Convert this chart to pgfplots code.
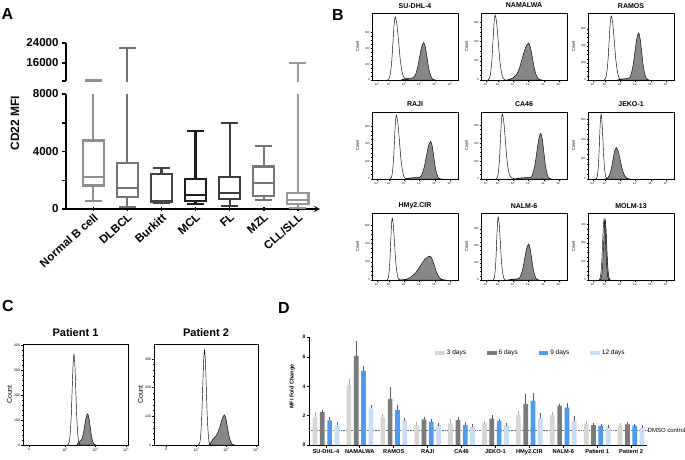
\documentclass[border=0pt]{standalone}
\usepackage{fontspec}
\setmainfont{Liberation Sans}
\usepackage{pgfplots}
\pgfplotsset{compat=1.18}
\definecolor{cNB}{HTML}{8F8F8F}
\definecolor{cDL}{HTML}{727272}
\definecolor{cBu}{HTML}{454545}
\definecolor{cMC}{HTML}{1E1E1E}
\definecolor{cFL}{HTML}{3D3D3D}
\definecolor{cMZ}{HTML}{777777}
\definecolor{cCL}{HTML}{999999}
\definecolor{histfill}{HTML}{888888}
\definecolor{dA}{HTML}{D6D6D6}
\definecolor{dB}{HTML}{7B7B7B}
\definecolor{dC}{HTML}{4F9BEF}
\definecolor{dD}{HTML}{C7DCF6}
\definecolor{eA}{HTML}{ABABAB}
\definecolor{eB}{HTML}{5A5A5A}
\pgfplotsset{
 every axis/.append style={/pgf/number format/assume math mode=true, scaled ticks=false},
 flowaxis/.style={scale only axis, width=86pt, height=67pt, xmin=-0.33, xmax=5.33, ymin=0,
  axis line style={line width=0.4pt}, tick align=outside,
  major tick length=1.5pt, minor tick length=0.8pt,
  tick style={line width=0.3pt, black},
  xtick={0,0.8,1.8,2.8,3.8,4.8},
  xticklabels={-10\textsuperscript{2},10\textsuperscript{2},10\textsuperscript{3},10\textsuperscript{4},10\textsuperscript{5},10\textsuperscript{6}},
  minor x tick num=4, minor y tick num=3, tick pos=left,
  tick label style={font=\fontsize{2.8}{3}\selectfont, inner sep=0.6pt},
  ylabel={Count}, every axis y label/.style={at={(axis description cs:-0.17,0.5)}, rotate=90, anchor=center, font=\fontsize{4}{4}\selectfont},
  title style={at={(0.5,1)}, anchor=base, yshift=-1pt, font=\bfseries\fontsize{7}{7}\selectfont},
 },
 flowC/.style={scale only axis, height=101pt, ymin=0,
  axis line style={line width=0.5pt}, tick align=outside,
  major tick length=2pt, minor tick length=1pt,
  tick style={line width=0.35pt, black},
  minor x tick num=4, minor y tick num=4, tick pos=left,
  tick label style={font=\fontsize{3.5}{4}\selectfont, inner sep=0.8pt},
  ylabel={Count}, every axis y label/.style={at={(axis description cs:-0.13,0.5)}, rotate=90, anchor=center, font=\fontsize{7}{7}\selectfont},
  title style={at={(0.5,1)}, anchor=base, yshift=2pt, font=\bfseries\fontsize{11}{11}\selectfont},
 },
 histS/.style={fill=histfill, draw=black, line width=0.45pt, smooth, tension=0.4},
 histO/.style={draw=black, line width=0.45pt, smooth, tension=0.4, fill=none},
 boxA/.style={scale only axis, width=254pt, xmin=0.2, xmax=7.65,
  axis y line=left, axis line style={line width=1.5pt,-},
  tick align=outside, major tick length=4pt, minor tick length=4pt,
  tick style={line width=1.5pt, black},
  tick label style={font=\bfseries\fontsize{11.5}{12}\selectfont},
 },
 bx/.style={draw=#1, line width=2.2pt, unbounded coords=jump, mark=none},
 dbar/.style 2 args={ybar, bar width=4.7pt, bar shift=#1, fill=#2, draw=none},
 derr/.style={forget plot, draw=none, mark=none,
  error bars/.cd, y dir=plus, y explicit,
  error bar style={draw=#1, line width=0.55pt},
  error mark options={draw=#1, mark size=1.3pt, line width=0.55pt}},
}
\begin{document}
\begin{tikzpicture}
\path[use as bounding box] (0pt,0pt) rectangle (685pt,459pt);
\node[font=\bfseries\fontsize{16}{16}\selectfont] at (7.5pt,445pt) {A};
\node[font=\bfseries\fontsize{16}{16}\selectfont] at (338pt,444pt) {B};
\node[font=\bfseries\fontsize{16}{16}\selectfont] at (8pt,153pt) {C};
\node[font=\bfseries\fontsize{16}{16}\selectfont] at (284pt,151.5pt) {D};
\node[rotate=90, font=\bfseries\fontsize{12}{12}\selectfont] at (15pt,336pt) {CD22 MFI};

% ---------- Panel A lower ----------
\begin{axis}[boxA, at={(66pt,250pt)}, anchor=south west, height=115pt,
 ymin=0, ymax=8000, axis x line=bottom,
 ytick={0,4000,8000}, yticklabels={0,4000,8000}, minor ytick={2000,6000},
 xtick={1,2,3,4,5,6,7}, xticklabels={Normal B cell,DLBCL,Burkitt,MCL,FL,MZL,CLL/SLL},
 x tick label style={rotate=42, anchor=north east, inner sep=1pt},
]
\addplot[bx=cNB] coordinates {(0.69,1630) (1.31,1630) (1.31,4770) (0.69,4770) (0.69,1630) (1.31,1630) (1,nan) (0.69,2200) (1.31,2200) (1,nan) (1,4770) (1,9000) (1,nan) (1,1630) (1,580) (1,nan) (0.75,580) (1.25,580)};
\addplot[bx=cDL] coordinates {(1.69,810) (2.31,810) (2.31,3190) (1.69,3190) (1.69,810) (2.31,810) (2,nan) (1.69,1440) (2.31,1440) (2,nan) (2,3190) (2,9000) (2,nan) (2,810) (2,160) (2,nan) (1.75,160) (2.25,160)};
\addplot[bx=cBu] coordinates {(2.69,510) (3.31,510) (3.31,2440) (2.69,2440) (2.69,510) (3.31,510) (3,nan) (2.69,560) (3.31,560) (3,nan) (3,2440) (3,2880) (3,nan) (3,510) (3,430) (3,nan) (2.75,430) (3.25,430) (3,nan) (2.75,2880) (3.25,2880)};
\addplot[bx=cMC] coordinates {(3.69,580) (4.31,580) (4.31,2070) (3.69,2070) (3.69,580) (4.31,580) (4,nan) (3.69,980) (4.31,980) (4,nan) (4,2070) (4,5440) (4,nan) (4,580) (4,330) (4,nan) (3.75,330) (4.25,330) (4,nan) (3.75,5440) (4.25,5440)};
\addplot[bx=cFL] coordinates {(4.69,670) (5.31,670) (5.31,2200) (4.69,2200) (4.69,670) (5.31,670) (5,nan) (4.69,1140) (5.31,1140) (5,nan) (5,2200) (5,5980) (5,nan) (5,670) (5,230) (5,nan) (4.75,230) (5.25,230) (5,nan) (4.75,5980) (5.25,5980)};
\addplot[bx=cMZ] coordinates {(5.69,930) (6.31,930) (6.31,2950) (5.69,2950) (5.69,930) (6.31,930) (6,nan) (5.69,1790) (6.31,1790) (6,nan) (6,2950) (6,4400) (6,nan) (6,930) (6,630) (6,nan) (5.75,630) (6.25,630) (6,nan) (5.75,4400) (6.25,4400)};
\addplot[bx=cCL] coordinates {(6.69,350) (7.31,350) (7.31,1140) (6.69,1140) (6.69,350) (7.31,350) (7,nan) (6.69,630) (7.31,630) (7,nan) (7,1140) (7,9000) (7,nan) (7,350) (7,50) (7,nan) (6.75,50) (7.25,50)};
\end{axis}
% ---------- Panel A upper ----------
\begin{axis}[boxA, at={(66pt,378pt)}, anchor=south west, height=38pt,
 ymin=8800, ymax=24000, axis x line=none,
 ytick={8800,16000,24000}, yticklabels={,16000,24000},
]
\addplot[bx=cNB] coordinates {(0.75,9000) (1.25,9000)};
\addplot[bx=cDL] coordinates {(2,8000) (2,22000) (2,nan) (1.75,22000) (2.25,22000)};
\addplot[bx=cCL] coordinates {(7,8000) (7,16000) (7,nan) (6.75,16000) (7.25,16000)};
\end{axis}

% ---------- Panel B ----------
\begin{axis}[flowaxis, at={(372pt,379pt)}, anchor=south west, ymax=840, ytick={0,200,400,600}, title={SU-DHL-4}]
\addplot[histS] coordinates {(1.6,0) (1.75,12) (2.0,18) (2.2,22) (2.4,30) (2.53,66) (2.665,150) (2.8,287) (2.935,414) (3.07,470) (3.18,414) (3.29,287) (3.40,150) (3.51,66) (3.62,19) (3.73,5) (3.84,0)} \closedcycle;
\addplot[histO] coordinates {(0.675,0) (0.75,8) (0.825,32) (0.9,110) (0.975,253) (1.05,482) (1.125,695) (1.2,790) (1.31,695) (1.42,482) (1.53,253) (1.64,110) (1.75,40) (1.86,15) (1.97,5) (2.1,0)};
\end{axis}
\begin{axis}[flowaxis, at={(481pt,379pt)}, anchor=south west, ymax=694, ytick={0,200,400,600}, title={NAMALWA}]
\addplot[histS] coordinates {(1.4,0) (1.6,12) (1.8,25) (2.0,54) (2.2,123) (2.4,234) (2.6,337) (2.8,383) (2.925,337) (3.05,234) (3.175,123) (3.3,54) (3.425,15) (3.55,4) (3.675,0)} \closedcycle;
\addplot[histO] coordinates {(0.11,0) (0.18,7) (0.25,27) (0.32,94) (0.39,215) (0.46,411) (0.53,592) (0.6,673) (0.7,592) (0.8,411) (0.9,215) (1.0,94) (1.1,27) (1.2,7) (1.3,0)};
\end{axis}
\begin{axis}[flowaxis, at={(588pt,379pt)}, anchor=south west, ymax=788, ytick={0,200,400,600}, title={RAMOS}]
\addplot[histS] coordinates {(1.6,0) (1.8,10) (2.1,15) (2.4,25) (2.52,77) (2.64,177) (2.76,337) (2.88,487) (3.0,553) (3.1,487) (3.2,337) (3.3,177) (3.4,77) (3.5,22) (3.6,6) (3.7,0)} \closedcycle;
\addplot[histO] coordinates {(0.71,0) (0.78,8) (0.85,30) (0.92,105) (0.99,241) (1.06,459) (1.13,663) (1.2,753) (1.3,663) (1.4,459) (1.5,241) (1.6,105) (1.7,30) (1.8,8) (1.9,0)};
\end{axis}

\begin{axis}[flowaxis, at={(372pt,280pt)}, anchor=south west, ymax=763, ytick={0,200,400,600}, title={RAJI}]
\addplot[histS] coordinates {(1.9,0) (2.1,10) (2.4,15) (2.83,22) (2.97,60) (3.11,137) (3.25,261) (3.39,377) (3.53,428) (3.63,377) (3.73,261) (3.83,137) (3.93,60) (4.03,17) (4.13,4) (4.23,0)} \closedcycle;
\addplot[histO] coordinates {(0.85,0) (0.91,7) (0.97,29) (1.03,102) (1.09,233) (1.15,444) (1.21,641) (1.27,728) (1.37,641) (1.47,444) (1.57,233) (1.67,102) (1.77,29) (1.87,7) (1.97,0)};
\end{axis}
\begin{axis}[flowaxis, at={(481pt,280pt)}, anchor=south west, ymax=746, ytick={0,200,400,600}, title={CA46}]
\addplot[histS] coordinates {(1.9,0) (2.2,10) (2.6,15) (2.975,20) (3.1,71) (3.225,163) (3.35,310) (3.475,447) (3.6,508) (3.7,447) (3.8,310) (3.9,163) (4.0,71) (4.1,20) (4.2,5) (4.3,0)} \closedcycle;
\addplot[histO] coordinates {(0.65,0) (0.71,7) (0.77,29) (0.83,101) (0.89,231) (0.95,441) (1.01,636) (1.07,723) (1.17,636) (1.27,441) (1.37,231) (1.47,101) (1.57,35) (1.67,15) (1.8,5) (1.95,0)};
\end{axis}
\begin{axis}[flowaxis, at={(588pt,280pt)}, anchor=south west, ymax=671, ytick={0,200,400,600}, title={JEKO-1}]
\addplot[histS] coordinates {(0.76,0) (0.87,3) (0.98,13) (1.09,44) (1.2,101) (1.31,192) (1.42,277) (1.53,315) (1.66,277) (1.79,192) (1.92,101) (2.05,44) (2.18,13) (2.31,3) (2.44,0)} \closedcycle;
\addplot[histO] coordinates {(0.18,0) (0.23,7) (0.28,26) (0.33,91) (0.38,208) (0.43,397) (0.48,572) (0.53,650) (0.59,572) (0.65,397) (0.71,208) (0.77,91) (0.83,26) (0.89,7) (0.95,0)};
\end{axis}

\begin{axis}[flowaxis, at={(372pt,179pt)}, anchor=south west, ymax=732, ytick={0,200,400,600}, title={HMy2.CIR}]
\addplot[histS] coordinates {(1.37,0) (1.67,3) (1.97,10) (2.27,37) (2.57,84) (2.87,160) (3.17,231) (3.47,262) (3.62,231) (3.77,160) (3.92,84) (4.07,37) (4.22,10) (4.37,3) (4.52,0)} \closedcycle;
\addplot[histO] coordinates {(0.65,0) (0.7,7) (0.75,27) (0.8,95) (0.85,216) (0.9,412) (0.95,595) (1.0,676) (1.075,595) (1.15,412) (1.225,216) (1.3,95) (1.375,27) (1.45,7) (1.525,0)};
\end{axis}
\begin{axis}[flowaxis, at={(481pt,179pt)}, anchor=south west, ymax=788, ytick={0,200,400,600}, title={NALM-6}]
\addplot[histS] coordinates {(1.4,0) (1.7,8) (2.0,12) (2.175,20) (2.3,59) (2.425,135) (2.55,258) (2.675,372) (2.8,423) (2.9,372) (3.0,258) (3.1,135) (3.2,59) (3.3,17) (3.4,4) (3.5,0)} \closedcycle;
\addplot[histO] coordinates {(0.45,0) (0.5,7) (0.55,30) (0.6,104) (0.65,237) (0.7,452) (0.75,652) (0.8,741) (0.87,652) (0.94,452) (1.01,237) (1.08,104) (1.15,30) (1.22,7) (1.29,0)};
\end{axis}
\begin{axis}[flowaxis, at={(588pt,179pt)}, anchor=south west, ymax=362, ytick={0,100,200,300}, title={MOLM-13}]
\addplot[histS] coordinates {(0.45,0) (0.5,3) (0.55,13) (0.6,46) (0.65,104) (0.7,198) (0.75,286) (0.8,325) (0.85,286) (0.9,198) (0.95,104) (1.0,46) (1.05,13) (1.1,3) (1.15,0)} \closedcycle;
\addplot[histO] coordinates {(0.38,0) (0.43,3) (0.48,13) (0.53,46) (0.58,106) (0.63,201) (0.68,290) (0.73,330) (0.78,290) (0.83,201) (0.88,106) (0.93,46) (0.98,13) (1.03,3) (1.08,0)};
\end{axis}

% ---------- Panel C ----------
\begin{axis}[flowC, at={(23pt,14pt)}, anchor=south west, width=105pt, xmin=-0.77, xmax=6.13, ymax=404,
 ytick={0,100,200,300,400}, xtick={-0.39,2,4,6}, xticklabels={0,10\textsuperscript{2},10\textsuperscript{4},10\textsuperscript{6}}, title={Patient 1}]
\addplot[histS] coordinates {(2.78,0) (2.85,8) (2.95,14) (3.08,22) (3.18,42) (3.28,76) (3.38,110) (3.48,125) (3.56,110) (3.64,76) (3.72,40) (3.80,17) (3.88,5) (3.96,1) (4.04,0)} \closedcycle;
\addplot[histO] coordinates {(2.16,0) (2.22,4) (2.28,15) (2.34,51) (2.40,116) (2.46,221) (2.52,319) (2.58,363) (2.64,319) (2.70,221) (2.76,116) (2.82,51) (2.88,15) (2.94,4) (3.0,0)};
\end{axis}
\begin{axis}[flowC, at={(154pt,14pt)}, anchor=south west, width=104pt, xmin=-0.87, xmax=6.13, ymax=352,
 ytick={0,100,200,300}, xtick={-0.07,2,4,6}, xticklabels={0,10\textsuperscript{2},10\textsuperscript{4},10\textsuperscript{6}}, title={Patient 2}]
\addplot[histS] coordinates {(2.85,0) (2.95,8) (3.1,20) (3.27,30) (3.42,42) (3.57,64) (3.72,92) (3.87,105) (3.97,92) (4.07,64) (4.17,34) (4.27,15) (4.37,4) (4.47,1) (4.57,0)} \closedcycle;
\addplot[histO] coordinates {(2.11,0) (2.17,3) (2.23,13) (2.29,46) (2.35,106) (2.41,202) (2.47,291) (2.53,331) (2.59,291) (2.65,202) (2.71,106) (2.77,46) (2.83,13) (2.89,3) (2.95,0)};
\end{axis}

% ---------- Panel D ----------
\begin{axis}[at={(309pt,14pt)}, anchor=south west, scale only axis, width=338pt, height=108pt,
 xmin=-0.5, xmax=9.47, ymin=0, ymax=7.36, clip=false,
 axis x line=bottom, axis y line=left, axis line style={line width=0.9pt,-},
 xtick={0,1,2,3,4,5,6,7,8,9},
 xticklabels={SU-DHL-4,NAMALWA,RAMOS,RAJI,CA46,JEKO-1,HMy2.CIR,NALM-6,Patient 1,Patient 2},
 ytick={0,2,4,6,7.36}, yticklabels={0,2,4,6,8},
 tick align=outside, major tick length=2.5pt, tick style={line width=0.9pt, black},
 x tick label style={font=\bfseries\fontsize{5.7}{6}\selectfont, inner sep=1pt, yshift=-0.5pt},
 y tick label style={font=\bfseries\fontsize{5}{5}\selectfont, inner sep=1pt},
 ylabel={MFI Fold Change},
 every axis y label/.style={at={(axis description cs:-0.05,0.54)}, rotate=90, anchor=center, font=\bfseries\fontsize{5.5}{6}\selectfont},
 legend style={at={(axis description cs:0.657,0.85)}, anchor=center, draw=none, fill=none,
   legend columns=4, font=\fontsize{6.5}{7}\selectfont,
   /tikz/every even column/.append style={column sep=19pt}},
 legend image code/.code={\fill[#1] (0pt,-2.2pt) rectangle (9.5pt,2.2pt);},
]
\addplot[forget plot, densely dotted, line width=0.6pt, color=gray!80!black] coordinates {(-0.5,1) (9.47,1)};
\addplot[dbar={-11pt}{dA}] coordinates {(0,1.89) (1,4.09) (2,1.89) (3,1.36) (4,1.48) (5,1.48) (6,2.05) (7,2.05) (8,1.45) (9,1.34)};
\addlegendentry{3 days}
\addplot[dbar={-3.65pt}{dB}] coordinates {(0,2.25) (1,6.07) (2,3.14) (3,1.75) (4,1.70) (5,1.80) (6,2.80) (7,2.66) (8,1.36) (9,1.41)};
\addlegendentry{6 days}
\addplot[dbar={3.65pt}{dC}] coordinates {(0,1.68) (1,5.05) (2,2.39) (3,1.59) (4,1.36) (5,1.64) (6,3.00) (7,2.55) (8,1.30) (9,1.32)};
\addlegendentry{9 days}
\addplot[dbar={11pt}{dD}] coordinates {(0,1.38) (1,2.50) (2,1.66) (3,1.36) (4,1.25) (5,1.32) (6,1.86) (7,1.64) (8,1.25) (9,1.20)};
\addlegendentry{12 days}
% error bars (upper only), placed at each bar's centre
\addplot[derr=eA] coordinates {(-0.3245,1.89) +- (0,0.29) (0.6755,4.09) +- (0,0.34) (1.6755,1.89) +- (0,0.16) (2.6755,1.36) +- (0,0.12) (3.6755,1.48) +- (0,0.18) (4.6755,1.48) +- (0,0.07) (5.6755,2.05) +- (0,0.18) (6.6755,2.05) +- (0,0.11) (7.6755,1.45) +- (0,0.07) (8.6755,1.34) +- (0,0.07)};
\addplot[derr=eB] coordinates {(-0.1077,2.25) +- (0,0.05) (0.8923,6.07) +- (0,0.91) (1.8923,3.14) +- (0,0.72) (2.8923,1.75) +- (0,0.09) (3.8923,1.70) +- (0,0.12) (4.8923,1.80) +- (0,0.13) (5.8923,2.80) +- (0,0.56) (6.8923,2.66) +- (0,0.07) (7.8923,1.36) +- (0,0.03) (8.8923,1.41) +- (0,0.04)};
\addplot[derr=eB] coordinates {(0.1077,1.68) +- (0,0.14) (1.1077,5.05) +- (0,0.25) (2.1077,2.39) +- (0,0.27) (3.1077,1.59) +- (0,0.11) (4.1077,1.36) +- (0,0.12) (5.1077,1.64) +- (0,0.06) (6.1077,3.00) +- (0,0.48) (7.1077,2.55) +- (0,0.20) (8.1077,1.30) +- (0,0.04) (9.1077,1.32) +- (0,0.04)};
\addplot[derr=eB] coordinates {(0.3245,1.38) +- (0,0.07) (1.3245,2.50) +- (0,0.11) (2.3245,1.66) +- (0,0.09) (3.3245,1.36) +- (0,0.05) (4.3245,1.25) +- (0,0.07) (5.3245,1.32) +- (0,0.07) (6.3245,1.86) +- (0,0.23) (7.3245,1.64) +- (0,0.25) (8.3245,1.25) +- (0,0.02) (9.3245,1.20) +- (0,0.07)};
\node[anchor=west, inner sep=0.5pt, font=\fontsize{6}{6}\selectfont] at (axis cs:9.47,1) {DMSO control};
\end{axis}
\end{tikzpicture}
\end{document}
